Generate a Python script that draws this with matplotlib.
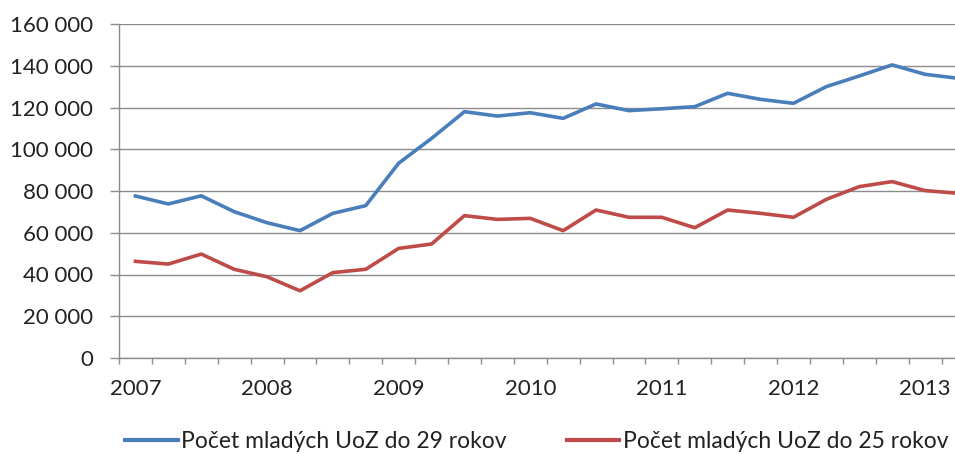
import matplotlib
matplotlib.use("Agg")
import matplotlib.pyplot as plt
from matplotlib.ticker import FuncFormatter, MultipleLocator

plt.rcParams['font.family'] = ['Lato', 'DejaVu Sans']

# quarterly values, 2007 Q1 .. 2013 Q2
years = ['2007', '2008', '2009', '2010', '2011', '2012', '2013']
uoz_29 = [77600, 73800, 77700, 70100, 64800, 61000, 69300, 73000,
          93300, 105200, 118000, 115900, 117500, 114800, 121700, 118500,
          119400, 120400, 126800, 123900, 122000, 130000, 135100, 140400,
          135900, 134000]
uoz_25 = [46300, 45000, 49800, 42500, 38900, 32200, 40900, 42500,
          52500, 54600, 68200, 66400, 66900, 61000, 70900, 67400,
          67400, 62400, 70900, 69300, 67400, 76000, 82100, 84500,
          80200, 78900]
labels = ['Počet mladých UoZ do 29 rokov', 'Počet mladých UoZ do 25 rokov']

blue = '#4A7EBB'
red = '#BE4B48'
grid_c = '#8C8C8C'
txt_c = '#222222'

fig = plt.figure(figsize=(9.55, 4.54), dpi=100)
ax = fig.add_axes([119 / 955, 1 - 358 / 454, 1 - 119 / 955, 334 / 454])

x = list(range(len(uoz_29)))
ax.plot(x, uoz_29, color=blue, lw=2.6, label=labels[0], solid_joinstyle='round')
ax.plot(x, uoz_25, color=red, lw=2.6, label=labels[1], solid_joinstyle='round')

ax.yaxis.set_major_locator(MultipleLocator(20000))
ax.yaxis.set_major_formatter(FuncFormatter(lambda v, p: f"{int(v):,}".replace(',', ' ')))
ax.grid(axis='y', color=grid_c, lw=1)
ax.set_axisbelow(True)

ax.set_xticks([i * 4 for i in range(len(years))])
ax.set_xticklabels(years)
ax.set_xticks([i - 0.5 for i in range(len(uoz_29) + 1)], minor=True)

# limits after the ticks, set_xticks would widen them
ax.set_ylim(0, 160000)
ax.set_xlim(-0.5, -0.5 + (955 - 119) / 32.9)

for s in ['top', 'right']:
    ax.spines[s].set_visible(False)
for s in ['left', 'bottom']:
    ax.spines[s].set_color(grid_c)
    ax.spines[s].set_linewidth(1)

ax.tick_params(axis='y', length=6.5, width=1, color=grid_c, pad=12, labelsize=16, labelcolor=txt_c)
ax.tick_params(axis='x', which='major', length=0, pad=15, labelsize=16, labelcolor=txt_c)
ax.tick_params(axis='x', which='minor', length=4.5, width=1, color=grid_c)

leg = fig.legend(loc='center', bbox_to_anchor=(0.562, 0.028), ncol=2, frameon=False,
                 borderpad=0, fontsize=16.5, handlelength=2.3, handletextpad=0.15,
                 columnspacing=2.6, labelcolor=txt_c)
for h in leg.legend_handles:
    h.set_linewidth(3)

fig.savefig('out.png', dpi=100)
